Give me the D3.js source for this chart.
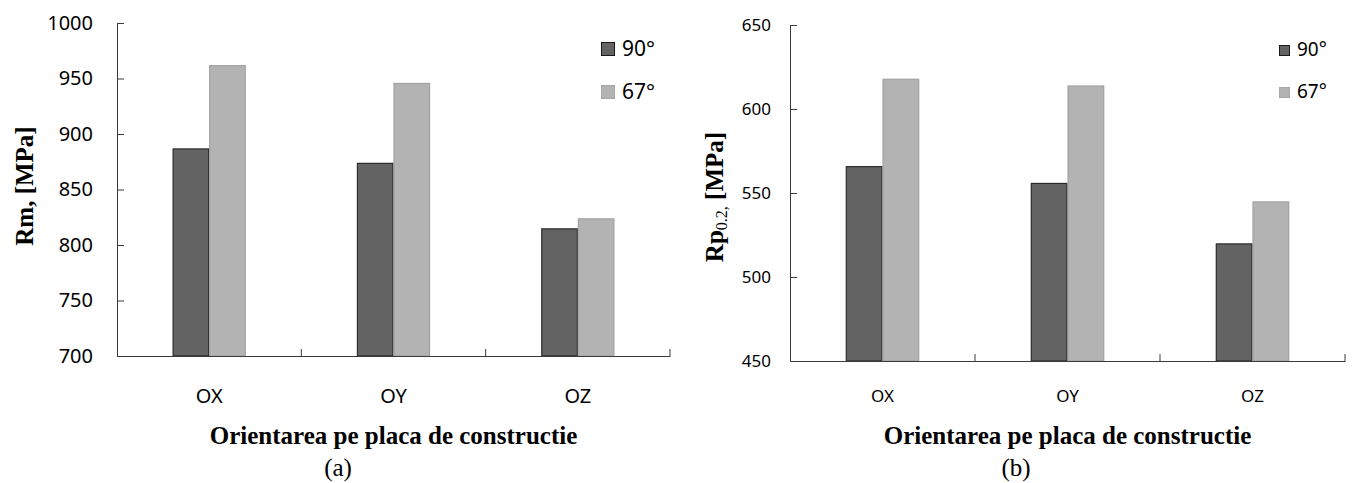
<!DOCTYPE html>
<html>
<head>
<meta charset="utf-8">
<script src="https://cdn.jsdelivr.net/npm/d3@7"></script>
<style>
  body { margin: 0; background: #fff; }
  .tick text { fill: #000; }
</style>
</head>
<body>
<div id="chart"></div>
<script>
// data
var categories = ["OX", "OY", "OZ"];
var series = ["90°", "67°"];
var rm90 = [887, 874, 815];
var rm67 = [962, 946, 824];
var rp90 = [566, 556, 520];
var rp67 = [618, 614, 545];
var rmTicks = [700, 750, 800, 850, 900, 950, 1000];
var rpTicks = [450, 500, 550, 600, 650];

var fill = {"90°": "#636363", "67°": "#b3b3b3"};
var edge = {"90°": "#2b2b2b", "67°": "#a2a2a2"};

var svg = d3.select("#chart")
  .append("svg")
    .attr("width", 1354)
    .attr("height", 483);

function drawPanel(p) {
  var g = svg.append("g");

  var x = d3.scaleBand()
      .domain(categories)
      .range([p.left, p.right]);
  var xSub = d3.scaleBand()
      .domain(series)
      .range([0, x.bandwidth()])
      .paddingOuter(1.52);
  var y = d3.scaleLinear()
      .domain([p.ticks[0], p.ticks[p.ticks.length - 1]])
      .range([p.bottom, p.top]);

  // bars
  var rows = categories.map(function(c, i) {
    return {cat: c, vals: [p.a[i], p.b[i]]};
  });
  g.selectAll(".grp")
    .data(rows)
    .enter()
    .append("g")
      .attr("transform", function(d) { return "translate(" + x(d.cat) + ",0)"; })
    .selectAll("rect")
    .data(function(d) { return series.map(function(s, j) { return {key: s, value: d.vals[j]}; }); })
    .enter()
    .append("rect")
      .attr("x", function(d) { return xSub(d.key) + 0.5; })
      .attr("y", function(d) { return y(d.value) + 0.5; })
      .attr("width", xSub.bandwidth() - 1)
      .attr("height", function(d) { return p.bottom - y(d.value) - 0.5; })
      .style("fill", function(d) { return fill[d.key]; })
      .style("stroke", function(d) { return edge[d.key]; })
      .style("stroke-width", 1.2);

  // y axis, ticks pointing in
  var ya = g.append("g")
      .attr("transform", "translate(" + p.left + ",0)")
      .call(d3.axisLeft(y).tickValues(p.ticks).tickFormat(d3.format("d"))
        .tickSizeInner(-7).tickSizeOuter(0).tickPadding(p.tickPad));
  ya.selectAll("text")
      .style("font-family", "'Noto Sans', sans-serif")
      .style("font-size", p.tickFont + "px");
  ya.selectAll("line, path").style("stroke", "#3a3a3a");

  // x axis: labels in the band centres
  var xa = g.append("g")
      .attr("transform", "translate(0," + p.bottom + ")")
      .call(d3.axisBottom(x).tickSize(0).tickSizeOuter(0).tickPadding(p.catPad));
  xa.selectAll("text")
      .style("font-family", "'Noto Sans', sans-serif")
      .style("font-size", p.catFont + "px");
  xa.select(".domain").style("stroke", "#3a3a3a");

  // separator ticks between the groups
  g.selectAll(".sep")
    .data(categories)
    .enter()
    .append("line")
      .attr("x1", function(d) { return x(d) + x.bandwidth(); })
      .attr("x2", function(d) { return x(d) + x.bandwidth(); })
      .attr("y1", p.bottom)
      .attr("y2", p.bottom - 7)
      .style("stroke", "#3a3a3a");

  // axis titles
  g.append("text")
      .attr("x", (p.left + p.right) / 2)
      .attr("y", 444)
      .attr("text-anchor", "middle")
      .style("font-family", "'Liberation Serif', 'Times New Roman', serif")
      .style("font-weight", "bold")
      .style("font-size", "25px")
      .text("Orientarea pe placa de constructie");

  var yt = g.append("text")
      .attr("transform", "translate(" + p.ytX + "," + p.ytY + ") rotate(-90)")
      .attr("text-anchor", "middle")
      .style("font-family", "'Liberation Serif', 'Times New Roman', serif")
      .style("font-weight", "bold")
      .style("font-size", "25px");
  p.yTitle(yt);

  g.append("text")
      .attr("x", p.capX)
      .attr("y", 476)
      .attr("text-anchor", "middle")
      .style("font-family", "'Liberation Serif', 'Times New Roman', serif")
      .style("font-size", "25px")
      .text(p.caption);

  // legend
  var lg = g.selectAll(".leg")
    .data(series)
    .enter()
    .append("g")
      .attr("transform", function(d, i) { return "translate(" + p.legX + "," + (p.legY + i * p.legGap) + ")"; });
  lg.append("rect")
      .attr("x", 0.5)
      .attr("y", -p.legSq + 0.5)
      .attr("width", p.legSq - 1)
      .attr("height", p.legSq - 1)
      .style("fill", function(d) { return fill[d]; })
      .style("stroke", function(d) { return d === "90°" ? "#1a1a1a" : "#a8a8a8"; });
  lg.append("text")
      .attr("x", p.legSq + 7)
      .attr("y", 0)
      .style("font-family", "'Noto Sans', sans-serif")
      .style("font-size", p.legFont + "px")
      .text(function(d) { return d; });
}

drawPanel({
  left: 117, right: 670, top: 23, bottom: 356,
  a: rm90, b: rm67, ticks: rmTicks,
  tickFont: 20, tickPad: 24, catFont: 20, catPad: 33,
  ytX: 33, ytY: 186,
  yTitle: function(t) { t.text("Rm, [MPa]"); },
  capX: 338, caption: "(a)",
  legX: 601, legY: 56, legGap: 43, legSq: 14, legFont: 21
});

drawPanel({
  left: 790, right: 1345, top: 25, bottom: 361,
  a: rp90, b: rp67, ticks: rpTicks,
  tickFont: 17, tickPad: 19, catFont: 17, catPad: 29,
  ytX: 723, ytY: 197,
  yTitle: function(t) {
    t.append("tspan").text("Rp");
    t.append("tspan").attr("dy", 4).style("font-size", "16px").style("font-weight", "normal").text("0.2,");
    t.append("tspan").attr("dy", -4).text(" [MPa]");
  },
  capX: 1016, caption: "(b)",
  legX: 1279, legY: 56, legGap: 42, legSq: 11, legFont: 19
});
</script>
</body>
</html>
